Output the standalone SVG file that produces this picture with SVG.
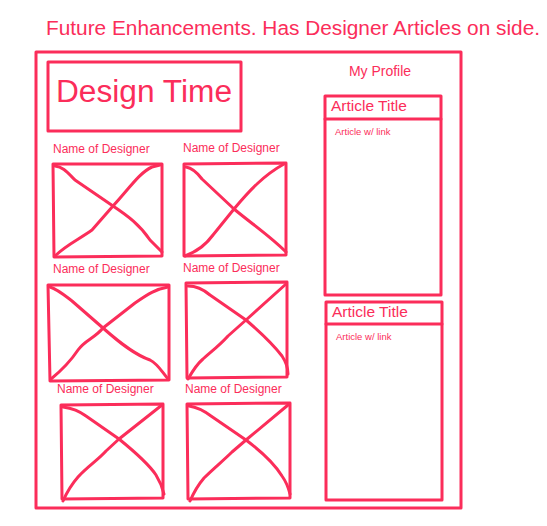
<svg xmlns="http://www.w3.org/2000/svg" width="547" height="526" viewBox="0 0 547 526">
  <style>
    .ink { fill: none; stroke: #fb2d5a; stroke-width: 3; stroke-linecap: round; stroke-linejoin: round; }
    text { fill: #fb2d5a; font-family: "Liberation Sans", Arial, sans-serif; }
    .cap { font-size: 12px; }
    .small { font-size: 9.5px; }
  </style>

  <!-- page heading -->
  <text x="46" y="35" font-size="20" textLength="494" lengthAdjust="spacingAndGlyphs">Future Enhancements. Has Designer Articles on side.</text>

  <!-- page frame -->
  <g id="frame">
    <path class="ink" d="M36 52 L461 52 L461 508 L36 508 Z"/>
  </g>

  <!-- site title -->
  <g id="title">
    <path class="ink" d="M48 62 L241 62 L241 131 L48 131 Z"/>
    <text x="56" y="102" font-size="31" textLength="176" lengthAdjust="spacingAndGlyphs">Design Time</text>
  </g>

  <g id="profile">
    <text x="380" y="76" font-size="14" text-anchor="middle">My Profile</text>
  </g>

  <!-- article panels -->
  <g id="article-1">
    <path class="ink" d="M325 96 L441 96 L441 295 L325 295 Z"/>
    <path class="ink" d="M325 119 L441 119"/>
    <text x="331" y="111" font-size="15.5">Article Title</text>
    <text class="small" x="335" y="135">Article w/ link</text>
  </g>

  <g id="article-2">
    <path class="ink" d="M326 302 L442 302 L442 500 L326 500 Z"/>
    <path class="ink" d="M326 324 L442 324"/>
    <text x="332" y="317" font-size="15.5">Article Title</text>
    <text class="small" x="336" y="340">Article w/ link</text>
  </g>

  <!-- designer cards: caption + image placeholder -->
  <g id="designer-1">
    <text class="cap" x="53" y="153">Name of Designer</text>
    <path class="ink" d="M53 164 L162 164 L162 256 L54 257 Z"/>
    <path class="ink" d="M55 166 C63 167 67 172 75 180 L113 206 C128 216 140 225 150 240 L162 252"/>
    <path class="ink" d="M55 256 C66 245 78 240 92 230 L113 206 C128 190 140 172 152 167 L160 165"/>
  </g>

  <g id="designer-2">
    <text class="cap" x="183" y="152">Name of Designer</text>
    <path class="ink" d="M184 164 L286 163 L286 255 L184 256 Z"/>
    <path class="ink" d="M186 167 C192 168 196 171 202 179 L234 209 C252 224 270 236 286 252"/>
    <path class="ink" d="M185 256 C196 252 205 246 213 235 L234 209 C250 190 264 175 284 164"/>
  </g>

  <g id="designer-3">
    <text class="cap" x="53" y="273">Name of Designer</text>
    <path class="ink" d="M48 285 L169 285 L169 380 L50 381 Z"/>
    <path class="ink" d="M50 287 C57 289 63 294 72 301 L103 328 C120 343 135 355 150 360 C158 364 162 372 168 379"/>
    <path class="ink" d="M51 379 C62 370 70 362 78 350 C85 340 95 338 103 328 L135 303 C148 294 156 289 168 287"/>
  </g>

  <g id="designer-4">
    <text class="cap" x="183" y="272">Name of Designer</text>
    <path class="ink" d="M186 283 L287 282 L287 377 L187 378 Z"/>
    <path class="ink" d="M188 286 C196 286 203 289 210 295 L246 320 C260 332 272 343 282 356 C286 362 288 368 288 374"/>
    <path class="ink" d="M188 379 C192 372 197 364 203 359 C212 351 220 345 228 336 L246 320 L286 284"/>
  </g>

  <g id="designer-5">
    <text class="cap" x="57" y="393">Name of Designer</text>
    <path class="ink" d="M61 405 L163 404 L163 498 L62 499 Z"/>
    <path class="ink" d="M63 407 C70 408 78 410 86 416 L119 439 C135 452 148 463 156 475 C161 483 163 490 164 494"/>
    <path class="ink" d="M63 501 C67 492 71 485 78 477 C88 466 98 460 106 451 L119 439 L162 405"/>
  </g>

  <g id="designer-6">
    <text class="cap" x="185" y="393">Name of Designer</text>
    <path class="ink" d="M187 404 L290 403 L290 498 L188 499 Z"/>
    <path class="ink" d="M189 406 C196 407 203 410 211 416 L246 440 C262 452 274 463 282 476 C287 483 289 490 290 494"/>
    <path class="ink" d="M190 501 C194 492 198 485 204 478 C214 468 224 460 232 452 L246 440 L288 405"/>
  </g>
</svg>
